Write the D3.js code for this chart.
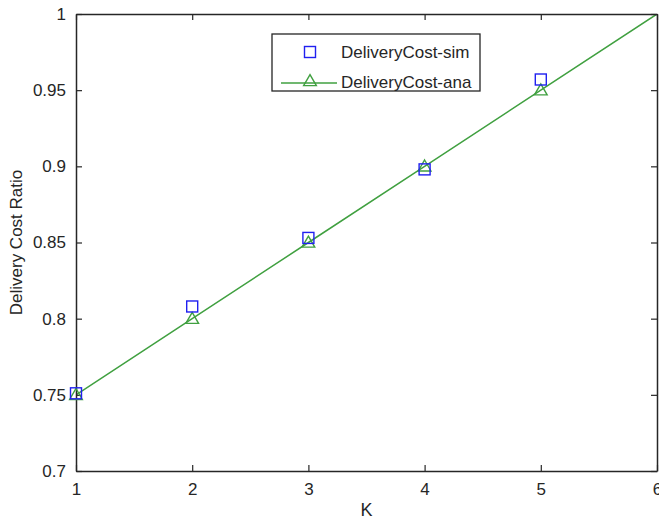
<!DOCTYPE html>
<html>
<head>
<meta charset="utf-8">
<script src="https://cdn.jsdelivr.net/npm/d3@7"></script>
<style>
  body { margin: 0; background: #fff; }
  svg { display: block; }
</style>
</head>
<body>
<svg id="chart" width="659" height="520"></svg>
<script>
// data
const kValues = [1, 2, 3, 4, 5];
const simCost = [0.751, 0.808, 0.853, 0.898, 0.957];
const anaK = [1, 2, 3, 4, 5, 6];
const anaCost = [0.75, 0.80, 0.85, 0.90, 0.95, 1.0];
const xTicks = [1, 2, 3, 4, 5, 6];
const yTicks = [0.7, 0.75, 0.8, 0.85, 0.9, 0.95, 1];
const seriesNames = ["DeliveryCost-sim", "DeliveryCost-ana"];

const svg = d3.select("#chart");
const box = { left: 76, top: 14, right: 657, bottom: 471 };
const font = "'Liberation Sans', Arial, sans-serif";
const axisColor = "#262626";
const simColor = "#2020f0";
const anaColor = "#40a040";

const x = d3.scaleLinear().domain([1, 6]).range([box.left, box.right]);
const y = d3.scaleLinear().domain([0.7, 1]).range([box.bottom, box.top]);

const fmt = d => String(+d.toFixed(2));

// analytic line is clipped to the axes box, markers are not
svg.append("defs").append("clipPath").attr("id", "plot-clip")
  .append("rect")
  .attr("x", box.left).attr("y", box.top)
  .attr("width", box.right - box.left).attr("height", box.bottom - box.top);

const line = d3.line().x((d, i) => x(anaK[i])).y(d => y(d));
svg.append("path")
  .attr("clip-path", "url(#plot-clip)")
  .attr("d", line(anaCost))
  .attr("fill", "none")
  .attr("stroke", anaColor)
  .attr("stroke-width", 1.5);

// axes: bottom + left with labels, top + right mirrored ticks only
const tickLen = 6;
const xAxis = d3.axisBottom(x).tickValues(xTicks).tickFormat(fmt).tickSizeInner(-tickLen).tickSizeOuter(0).tickPadding(12);
const yAxis = d3.axisLeft(y).tickValues(yTicks).tickFormat(fmt).tickSizeInner(-tickLen).tickSizeOuter(0).tickPadding(10);
const xTop = d3.axisTop(x).tickValues(xTicks).tickFormat("").tickSizeInner(-tickLen).tickSizeOuter(0);
const yRight = d3.axisRight(y).tickValues(yTicks).tickFormat("").tickSizeInner(-tickLen).tickSizeOuter(0);

function styleAxis(g) {
  g.selectAll(".domain").attr("stroke", axisColor).attr("stroke-width", 1.5);
  g.selectAll(".tick line").attr("stroke", axisColor).attr("stroke-width", 1.2);
  g.selectAll(".tick text")
    .attr("fill", axisColor)
    .style("font-family", font)
    .style("font-size", "17px");
}

svg.append("g").attr("transform", `translate(0,${box.bottom})`).call(xAxis).call(styleAxis);
svg.append("g").attr("transform", `translate(${box.left},0)`).call(yAxis).call(styleAxis);
svg.append("g").attr("transform", `translate(0,${box.top})`).call(xTop).call(styleAxis);
svg.append("g").attr("transform", `translate(${box.right},0)`).call(yRight).call(styleAxis);

// markers drawn on top of the axes
const tri = d3.symbol().type(d3.symbolTriangle).size(70);
svg.selectAll(".ana-mark")
  .data(kValues)
  .join("path")
  .attr("class", "ana-mark")
  .attr("transform", (d, i) => `translate(${x(d)},${y(anaCost[i]) + 1})`)
  .attr("d", tri)
  .attr("fill", "none")
  .attr("stroke", anaColor)
  .attr("stroke-width", 1.4);

const sq = 11;
svg.selectAll(".sim-mark")
  .data(kValues)
  .join("rect")
  .attr("class", "sim-mark")
  .attr("x", d => x(d) - sq / 2)
  .attr("y", (d, i) => y(simCost[i]) - sq / 2)
  .attr("width", sq).attr("height", sq)
  .attr("fill", "none")
  .attr("stroke", simColor)
  .attr("stroke-width", 1.4);

// axis titles
svg.append("text")
  .attr("x", (box.left + box.right) / 2)
  .attr("y", 516)
  .attr("text-anchor", "middle")
  .attr("fill", axisColor)
  .style("font-family", font)
  .style("font-size", "18px")
  .text("K");

svg.append("text")
  .attr("transform", `translate(22,${(box.top + box.bottom) / 2}) rotate(-90)`)
  .attr("text-anchor", "middle")
  .attr("fill", axisColor)
  .style("font-family", font)
  .style("font-size", "17px")
  .text("Delivery Cost Ratio");

// legend
const leg = svg.append("g");
leg.append("rect")
  .attr("x", 272).attr("y", 34)
  .attr("width", 208).attr("height", 57)
  .attr("fill", "#fff")
  .attr("stroke", axisColor)
  .attr("stroke-width", 1.3);

const rowY = [52, 82];
leg.append("rect")
  .attr("x", 310 - sq / 2).attr("y", rowY[0] - sq / 2)
  .attr("width", sq).attr("height", sq)
  .attr("fill", "none").attr("stroke", simColor).attr("stroke-width", 1.4);

leg.append("line")
  .attr("x1", 281).attr("x2", 337)
  .attr("y1", rowY[1] + 1).attr("y2", rowY[1] + 1)
  .attr("stroke", anaColor).attr("stroke-width", 1.5);
leg.append("path")
  .attr("transform", `translate(310,${rowY[1]})`)
  .attr("d", tri)
  .attr("fill", "none").attr("stroke", anaColor).attr("stroke-width", 1.4);

leg.selectAll(".leg-text")
  .data(seriesNames)
  .join("text")
  .attr("class", "leg-text")
  .attr("x", 341)
  .attr("y", (d, i) => rowY[i])
  .attr("dy", "0.35em")
  .attr("fill", axisColor)
  .style("font-family", font)
  .style("font-size", "17px")
  .text(d => d);
</script>
</body>
</html>
